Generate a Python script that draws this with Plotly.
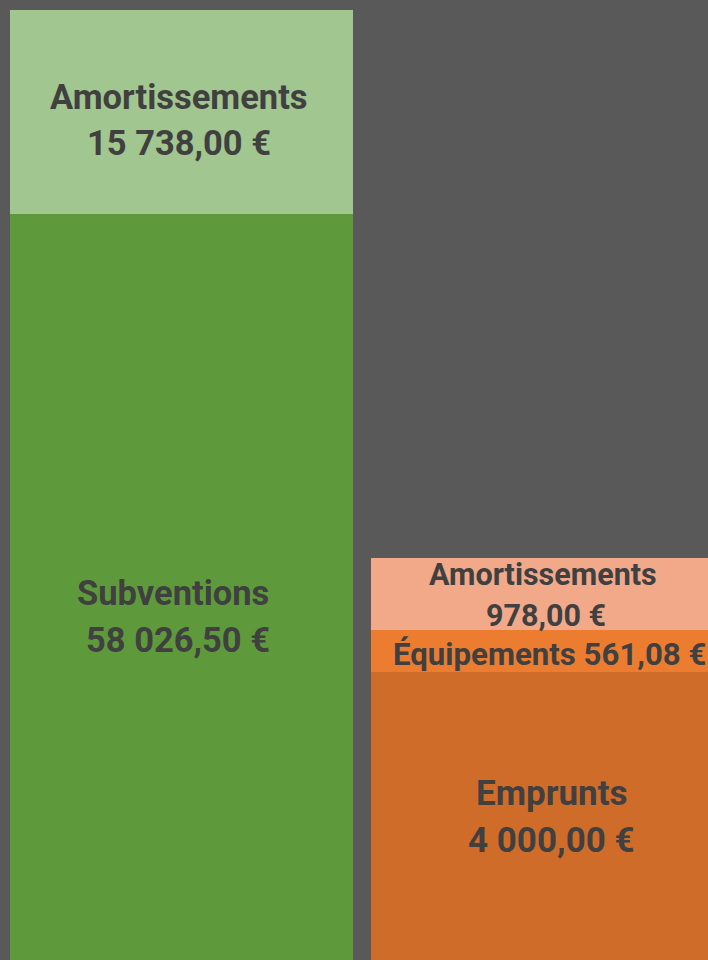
import plotly.graph_objects as go

# Data
left_names = ["Subventions", "Amortissements"]
left_values = [58026.50, 15738.00]
left_colors = ["#5E9A3B", "#A1C68F"]

right_names = ["Emprunts", "Équipements", "Amortissements"]
right_values = [4000.00, 561.08, 978.00]
right_colors = ["#D06C29", "#EC7C30", "#F1A98A"]


def fr(v):
    s = f"{v:,.2f}"
    return s.replace(",", " ").replace(".", ",") + " €"


TXT = "#404040"
FONT = "Roboto"

fig = go.Figure()
for n, v, c in zip(left_names, left_values, left_colors):
    fig.add_trace(go.Bar(
        x=[0], y=[v], width=[0.95], marker=dict(color=c, line=dict(width=0)),
        yaxis="y", showlegend=False, hoverinfo="skip"))
for n, v, c in zip(right_names, right_values, right_colors):
    fig.add_trace(go.Bar(
        x=[1], y=[v], width=[0.95], marker=dict(color=c, line=dict(width=0)),
        yaxis="y2", showlegend=False, hoverinfo="skip"))

# label styling: (vertical offset px, half line gap px, (name x offset, value x offset), font size, two lines?)
left_style = [(-27, 23.5, (-9, -4), 34.5, True), (-8, 23, (-3, -3), 34.5, True)]
right_style = [(2.5, 23.5, (9, 9), 35, True), (-3.5, 0, (7, 7), 31.2, False),
               (-1, 20.5, (0, 3), 30.5, True)]

for xpos, yref, names, values, styles in (
        (0, "y", left_names, left_values, left_style),
        (1, "y2", right_names, right_values, right_style)):
    base = 0
    for n, v, (s, gap, xs, size, two) in zip(names, values, styles):
        mid = base + v / 2
        base += v
        lines = ((n, gap, xs[0]), (fr(v), -gap, xs[1])) if two else ((f"{n} {fr(v)}", 0, xs[0]),)
        for t, dy, dx in lines:
            fig.add_annotation(x=xpos, y=mid, xref="x", yref=yref, text=f"<b>{t}</b>",
                               showarrow=False, yshift=s + dy, xshift=dx,
                               font=dict(family=FONT, size=size, color=TXT))

fig.update_layout(
    width=708, height=960,
    margin=dict(l=0, r=0, t=0, b=0),
    paper_bgcolor="#595959", plot_bgcolor="#595959",
    barmode="stack",
    xaxis=dict(range=[-0.5028, 1.4584], visible=False),
    yaxis=dict(range=[463, 74535], visible=False),
    yaxis2=dict(range=[108, 13077], visible=False, overlaying="y", side="right"),
)
fig.write_html("out.html", config={"displayModeBar": False},
               post_script="document.body.style.margin='0px';document.body.style.overflow='hidden';")
